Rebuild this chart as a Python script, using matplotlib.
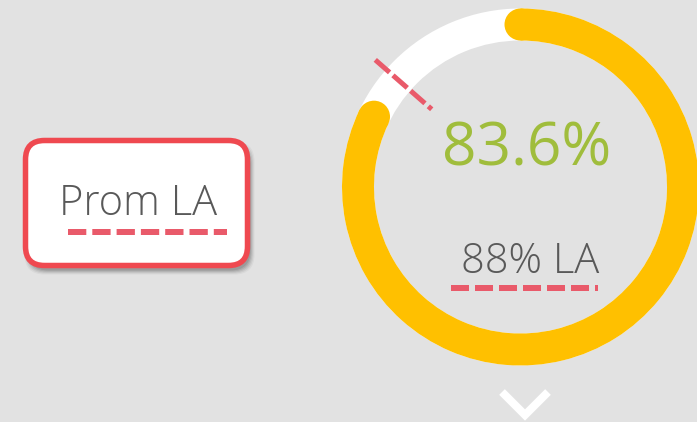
import numpy as np
import matplotlib
matplotlib.use("Agg")
import matplotlib.pyplot as plt
from matplotlib.patches import Wedge, Circle, FancyBboxPatch

plt.rcParams['lines.scale_dashes'] = False

# Gauge data
actual_value = 83.6          # percent achieved
target_value = 88.0          # target line (LA)
actual_label = "83.6%"
target_label = "88% LA"
card_label = "Prom LA"
gauge_max = 101.8            # full-circle scale of the gauge

BG = "#e2e2e2"
YELLOW = "#ffc000"
GREEN = "#a0bd3c"
TEXT_GRAY = "#595959"
DASH_RED = "#e95a6a"
BORDER_RED = "#ef4950"

W, H = 697, 422
fig = plt.figure(figsize=(W / 100, H / 100), dpi=100, facecolor=BG)
ax = fig.add_axes([0, 0, 1, 1])
ax.set_xlim(0, W)
ax.set_ylim(H, 0)
ax.set_facecolor(BG)
ax.axis("off")

PT = 0.72  # points per pixel at 100 dpi
FONT = ["Open Sans", "DejaVu Sans"]

# ---- ring gauge ----
cx, cy = 520.5, 187.0
r_out, thick = 178.5, 32.0
r_mid = r_out - thick / 2

ax.add_patch(Wedge((cx, cy), r_out, 0, 360, width=thick, facecolor="white",
                   edgecolor="none", zorder=1))

# y axis is inverted, so increasing data angle runs clockwise on screen
start = -90.0
sweep = actual_value / gauge_max * 360.0
end = start + sweep
ax.add_patch(Wedge((cx, cy), r_out, start, end, width=thick, facecolor=YELLOW,
                   edgecolor="none", zorder=2))
for a in (start, end):
    ax.add_patch(Circle((cx + r_mid * np.cos(np.radians(a)),
                         cy + r_mid * np.sin(np.radians(a))),
                        thick / 2, facecolor=YELLOW, edgecolor="none", zorder=2))

# target marker across the ring
t_ang = np.radians(start + target_value / gauge_max * 360.0)
radii = np.array([193.0, 118.0])
ax.plot(cx + radii * np.cos(t_ang), cy + radii * np.sin(t_ang),
        color=DASH_RED, lw=5 * PT, solid_capstyle="butt",
        dashes=(19 * PT, 4.5 * PT), dash_capstyle="butt", zorder=3)

ax.text(527, 165, actual_label, color=GREEN, fontsize=43.5, ha="center",
        va="baseline", family=FONT, zorder=4)
ax.text(530, 273, target_label, color=TEXT_GRAY, fontsize=30, ha="center",
        va="baseline", family=FONT, fontweight="light", zorder=4)
ax.plot([451, 598], [288, 288], color=DASH_RED, lw=6 * PT,
        dashes=(18 * PT, 6 * PT), dash_capstyle="butt", zorder=4)

# ---- label card ----
bx0, by0, bx1, by1 = 25.5, 140.5, 247.5, 265.5
for i, al in enumerate([0.08, 0.12, 0.16, 0.22, 0.28]):
    grow = 4 - i
    ax.add_patch(FancyBboxPatch((bx0 + 3 - grow, by0 + 5 - grow),
                                bx1 - bx0 + 2 * grow, by1 - by0 + 2 * grow,
                                boxstyle="round,pad=0,rounding_size=20",
                                facecolor="#707070", edgecolor="none",
                                alpha=al, zorder=5))
ax.add_patch(FancyBboxPatch((bx0, by0), bx1 - bx0, by1 - by0,
                            boxstyle="round,pad=0,rounding_size=19",
                            facecolor="white", edgecolor=BORDER_RED,
                            lw=5.5 * PT, zorder=6))
ax.text(138.5, 215, card_label, color=TEXT_GRAY, fontsize=30, ha="center",
        va="baseline", family=FONT, fontweight="light", zorder=7)
ax.plot([68, 227], [232, 232], color=DASH_RED, lw=6 * PT,
        dashes=(18.3 * PT, 6 * PT), dash_capstyle="butt", zorder=7)

# ---- scroll-down chevron ----
ax.plot([502, 525, 548], [392, 415, 392], color="white", lw=8 * PT,
        solid_capstyle="butt", solid_joinstyle="miter", zorder=3)

fig.savefig("out.png", dpi=100, facecolor=BG)
